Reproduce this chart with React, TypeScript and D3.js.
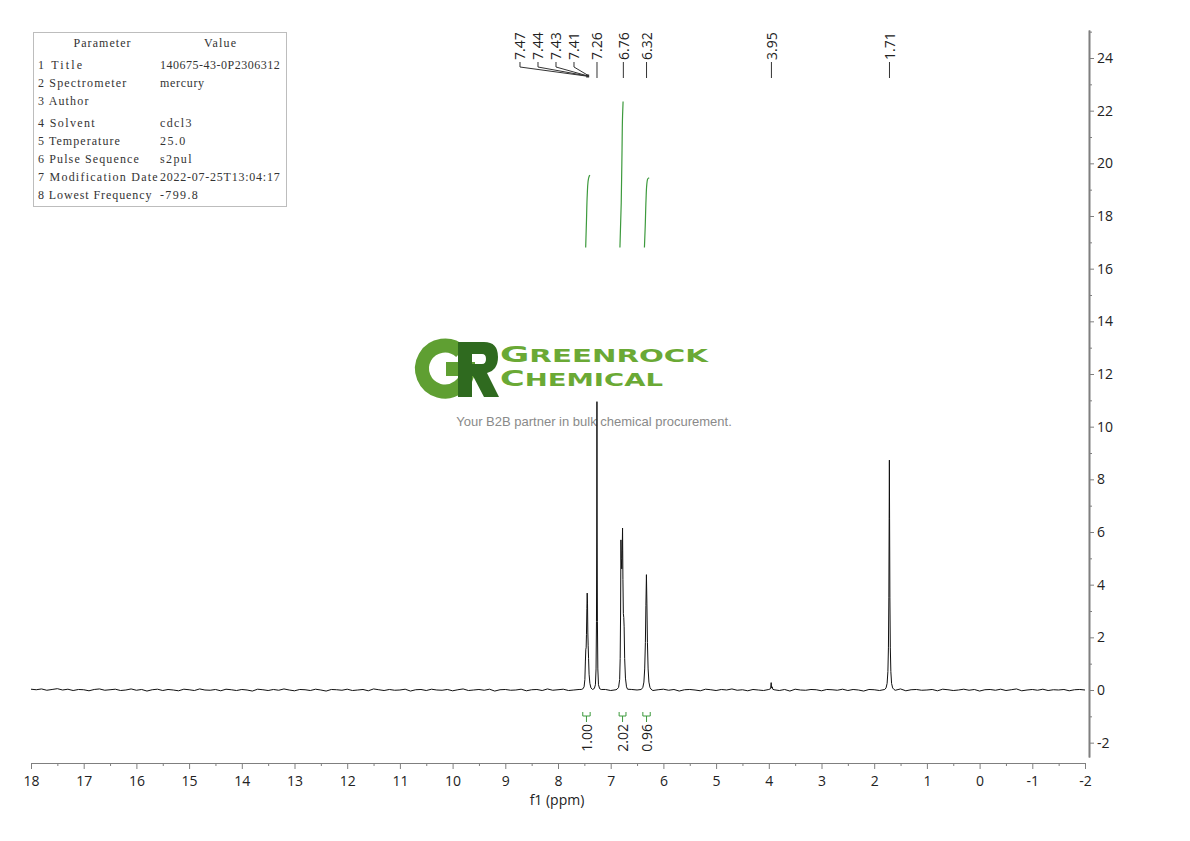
import React, { useEffect, useRef } from "react";
import * as d3 from "d3";

// axis ticks
const xTickValues = [18, 17, 16, 15, 14, 13, 12, 11, 10, 9, 8, 7, 6, 5, 4, 3, 2, 1, 0, -1, -2];
const xMinorTicks = [17.5, 16.5, 15.5, 14.5, 13.5, 12.5, 11.5, 10.5, 9.5, 8.5, 7.5, 6.5, 5.5, 4.5, 3.5, 2.5, 1.5, 0.5, -0.5, -1.5];
const yTickValues = [-2, 0, 2, 4, 6, 8, 10, 12, 14, 16, 18, 20, 22, 24];
const yMinorTicks = [-1, 1, 3, 5, 7, 9, 11, 13, 15, 17, 19, 21, 23, 25];

// parameter table
const paramNames = ["1 Title", "2 Spectrometer", "3 Author", "4 Solvent", "5 Temperature", "6 Pulse Sequence", "7 Modification Date", "8 Lowest Frequency"];
const paramValues = ["140675-43-0P2306312", "mercury", "", "cdcl3", "25.0", "s2pul", "2022-07-25T13:04:17", "-799.8"];

// peak picking labels (ppm)
const peakPicks = [7.47, 7.44, 7.43, 7.41, 7.26, 6.76, 6.32, 3.95, 1.71];

// integrals
const integralRanges = [[7.53, 7.39], [6.84, 6.71], [6.39, 6.25]];
const integralValues = ["1.00", "2.02", "0.96"];
const integralCurve1 = [[7.475, 16.8], [7.46, 17.8], [7.445, 18.8], [7.43, 19.3], [7.41, 19.5], [7.395, 19.55]];
const integralCurve2 = [[6.825, 16.8], [6.8, 18.5], [6.785, 20.5], [6.775, 21.8], [6.765, 22.35]];
const integralCurve3 = [[6.36, 16.8], [6.345, 17.6], [6.33, 18.6], [6.315, 19.2], [6.3, 19.4], [6.27, 19.45]];

// baseline noise, from 18 ppm downwards every 0.1 ppm
const baselineStart = 18;
const baselineStep = 0.1;
const baselineNoise = [
	0.03, 0.01, 0.04, -0.01, 0.02, 0.05, 0.0, 0.03, -0.02, 0.02,
	0.01, -0.03, 0.02, 0.04, -0.01, 0.01, 0.03, -0.02, 0.0, 0.04,
	-0.01, 0.02, -0.04, 0.01, 0.03, -0.02, 0.02, 0.0, -0.03, 0.03,
	0.01, -0.02, 0.04, 0.0, -0.01, 0.02, -0.03, 0.03, 0.01, -0.02,
	0.02, 0.0, -0.04, 0.03, 0.01, -0.02, 0.02, -0.01, 0.04, 0.0,
	-0.03, 0.02, 0.01, -0.02, 0.03, 0.0, -0.04, 0.02, 0.01, -0.01,
	0.03, -0.02, 0.0, 0.02, -0.03, 0.04, 0.01, -0.02, 0.02, -0.01,
	0.0, 0.03, -0.04, 0.01, 0.02, -0.02, 0.03, 0.0, -0.01, 0.02,
	-0.03, 0.01, 0.04, -0.02, 0.0, 0.02, -0.01, 0.03, -0.04, 0.01,
	0.02, -0.01, 0.0, 0.03, -0.03, 0.01, 0.02, -0.02, 0.04, -0.01,
	0.01, 0.03, -0.02, 0.0, 0.02, -0.04, 0.01, 0.03, -0.01, 0.02,
	-0.02, 0.01, 0.04, -0.03, 0.02, 0.0, -0.01, 0.03, -0.02, 0.01,
	0.03, -0.01, 0.02, -0.04, 0.01, 0.02, 0.0, -0.03, 0.03, 0.01,
	-0.02, 0.02, 0.0, 0.04, -0.01, 0.01, -0.03, 0.02, 0.0, -0.02,
	0.03, 0.01, -0.02, 0.02, -0.04, 0.03, 0.0, -0.01, 0.02, 0.01,
	-0.03, 0.02, 0.01, -0.01, 0.03, -0.02, 0.02, 0.0, -0.04, 0.02,
	0.01, -0.02, 0.03, 0.0, -0.01, 0.04, -0.03, 0.01, 0.02, -0.01,
	0.0, 0.02, -0.03, 0.03, 0.01, -0.02, 0.0, 0.03, -0.01, 0.02,
	-0.04, 0.01, 0.02, -0.01, 0.03, -0.02, 0.01, 0.04, -0.03, 0.0,
	0.02, -0.01, 0.03, -0.02, 0.01, 0.0, 0.02, -0.03, 0.01, 0.02,
	0.0,
];

// peak shapes [ppm, intensity]
const peakAromatic = [
	[7.56, 0.02], [7.53, 0.04], [7.505, 0.12], [7.49, 0.4], [7.48, 1.1], [7.472, 1.55], [7.466, 1.6], [7.46, 2.1],
	[7.452, 3.1], [7.446, 3.68], [7.44, 3.3], [7.434, 2.2], [7.428, 1.7], [7.42, 1.2], [7.41, 0.6], [7.395, 0.25],
	[7.375, 0.08], [7.345, 0.02], [7.31, 0.06], [7.29, 0.2], [7.278, 0.8], [7.27, 2.6], [7.265, 6.0], [7.261, 10.95],
	[7.257, 6.0], [7.252, 2.6], [7.244, 0.8], [7.232, 0.2], [7.21, 0.05], [7.18, 0.02],
];
const peak676 = [
	[6.88, 0.03], [6.85, 0.1], [6.83, 0.4], [6.82, 1.2], [6.812, 3.0], [6.806, 5.7], [6.8, 5.0], [6.79, 4.6],
	[6.782, 5.3], [6.775, 6.15], [6.768, 4.2], [6.76, 2.9], [6.752, 2.75], [6.745, 2.4], [6.735, 1.2], [6.72, 0.45],
	[6.7, 0.12], [6.68, 0.03],
];
const peak632 = [
	[6.42, 0.02], [6.39, 0.1], [6.37, 0.3], [6.355, 0.8], [6.342, 1.8], [6.332, 3.2], [6.322, 4.38], [6.313, 3.3],
	[6.303, 1.8], [6.29, 0.8], [6.275, 0.3], [6.255, 0.1], [6.235, 0.03],
];
const peak395 = [[4.0, 0.02], [3.965, 0.05], [3.955, 0.28], [3.948, 0.08], [3.935, 0.12], [3.925, 0.03], [3.9, 0.01]];
const peak171 = [
	[1.8, 0.02], [1.775, 0.08], [1.755, 0.25], [1.74, 0.7], [1.73, 1.6], [1.722, 3.5], [1.716, 6.5], [1.712, 8.73],
	[1.708, 6.5], [1.702, 3.5], [1.694, 1.6], [1.684, 0.7], [1.67, 0.25], [1.65, 0.08], [1.625, 0.02],
];

const W = 1190;
const H = 841;
const FONT = "'Open Sans', 'DejaVu Sans', sans-serif";

export default function App() {
	const svgRef = useRef<SVGSVGElement | null>(null);

	useEffect(() => {
		if (!svgRef.current) return;
		const svg = d3.select(svgRef.current);
		svg.selectAll("*").remove();

		const x = d3.scaleLinear().domain([18, -2]).range([31, 1085]);
		const y = d3.scaleLinear().domain([0, 24]).range([690, 58]);
		const axisTop = 30;
		const axisBottom = 757;
		const yAxisScale = d3.scaleLinear().domain([y.invert(axisBottom), y.invert(axisTop)]).range([axisBottom, axisTop]);

		// parameter table
		const table = svg.append("g").style("font-family", "'Liberation Serif', serif").style("font-size", "12px").attr("fill", "#333");
		table.append("rect").attr("x", 33.5).attr("y", 32.5).attr("width", 253).attr("height", 174).attr("fill", "#fff").attr("stroke", "#bdbdbd");
		table.append("text").attr("x", 102).attr("y", 47).attr("text-anchor", "middle").attr("textLength", 57).text("Parameter");
		table.append("text").attr("x", 220).attr("y", 47).attr("text-anchor", "middle").attr("textLength", 32).text("Value");
		const rowY = [69, 87, 105, 127, 145, 163, 181, 199];
		paramNames.forEach((name, i) => {
			table.append("text").attr("x", 38).attr("y", rowY[i]).attr("textLength", name.length * 6.3).attr("lengthAdjust", "spacing").text(name);
			if (paramValues[i])
				table.append("text").attr("x", 160).attr("y", rowY[i]).attr("textLength", paramValues[i].length * 6.3).attr("lengthAdjust", "spacing").text(paramValues[i]);
		});

		// watermark logo
		const logo = svg.append("g");
		logo.append("path").attr("d", "M461,352 A23,23 0 1 0 468,369").attr("fill", "none").attr("stroke", "#5f9f32").attr("stroke-width", 14);
		logo.append("rect").attr("x", 446).attr("y", 362).attr("width", 29).attr("height", 14).attr("fill", "#5f9f32");
		logo
			.append("path")
			.attr("fill-rule", "evenodd")
			.attr("fill", "#2f6a1f")
			.attr(
				"d",
				"M458,342 L484,342 Q498,342 498,357 Q498,370 487,373 L499,397 L484,397 L473,376 L472,376 L472,397 L458,397 Z M472,354 L482,354 Q486,354 486,359 Q486,364 482,364 L472,364 Z"
			);
		const word1 = logo.append("text").attr("x", 500).attr("y", 362).attr("fill", "#6aa935").style("font-family", "'DejaVu Sans', sans-serif").style("font-weight", "bold").attr("textLength", 208).attr("lengthAdjust", "spacingAndGlyphs");
		word1.append("tspan").style("font-size", "22px").text("G");
		word1.append("tspan").style("font-size", "18px").text("REENROCK");
		const word2 = logo.append("text").attr("x", 500).attr("y", 386).attr("fill", "#6aa935").style("font-family", "'DejaVu Sans', sans-serif").style("font-weight", "bold").attr("textLength", 163).attr("lengthAdjust", "spacingAndGlyphs");
		word2.append("tspan").style("font-size", "22px").text("C");
		word2.append("tspan").style("font-size", "18px").text("HEMICAL");
		logo.append("text").attr("x", 594).attr("y", 426).attr("text-anchor", "middle").attr("fill", "#8a8a8a").style("font-family", "'Liberation Sans', Arial, sans-serif").style("font-size", "13px").text("Your B2B partner in bulk chemical procurement.");

		// bottom axis
		const xAxisG = svg.append("g").attr("transform", `translate(0,763)`);
		xAxisG.call(d3.axisBottom(x).tickValues(xTickValues).tickSize(6).tickSizeOuter(0).tickPadding(7).tickFormat((d) => String(d)));
		xAxisG.call((g) => g.append("g").call(d3.axisBottom(x).tickValues(xMinorTicks).tickSize(3).tickSizeOuter(0).tickFormat(() => "")));
		xAxisG.selectAll("path.domain").attr("stroke", "#7f7f7f");
		xAxisG.selectAll("line").attr("stroke", "#7f7f7f");
		xAxisG.selectAll("text").style("font-family", FONT).style("font-size", "14px").attr("fill", "#222");
		svg.append("text").attr("x", 557).attr("y", 805).attr("text-anchor", "middle").style("font-family", FONT).style("font-size", "14px").attr("fill", "#222").text("f1 (ppm)");

		// right axis
		const yAxisG = svg.append("g").attr("transform", `translate(1089,0)`);
		yAxisG.call(d3.axisRight(yAxisScale).tickValues(yTickValues).tickSize(5).tickSizeOuter(0).tickPadding(3).tickFormat((d) => String(d)));
		yAxisG.call((g) => g.append("g").call(d3.axisRight(yAxisScale).tickValues(yMinorTicks).tickSize(3).tickSizeOuter(0).tickFormat(() => "")));
		yAxisG.selectAll("path.domain").attr("stroke", "#7f7f7f").attr("stroke-width", 1.6);
		yAxisG.selectAll("line").attr("stroke", "#7f7f7f");
		yAxisG.selectAll("text").style("font-family", FONT).style("font-size", "14px").attr("fill", "#222");

		// spectrum: baseline noise merged with peak shapes
		const peaks = [peakAromatic, peak676, peak632, peak395, peak171];
		const windows = peaks.map((p) => [d3.min(p, (d) => d[0]) as number, d3.max(p, (d) => d[0]) as number]);
		const basePts = baselineNoise
			.map((v, i) => [baselineStart - i * baselineStep, v])
			.filter((d) => !windows.some(([lo, hi]) => d[0] >= lo - 1e-6 && d[0] <= hi + 1e-6));
		const spectrum = basePts.concat(...peaks).sort((a, b) => b[0] - a[0]);
		const line = d3
			.line<number[]>()
			.x((d) => x(d[0]))
			.y((d) => y(d[1]));
		svg.append("path").datum(spectrum).attr("d", line).attr("fill", "none").attr("stroke", "#111").attr("stroke-width", 1).attr("stroke-linejoin", "round");

		// integral curves
		const green = "#3d9a3d";
		[integralCurve1, integralCurve2, integralCurve3].forEach((c) => {
			svg
				.append("path")
				.datum(c)
				.attr("d", d3.line<number[]>().x((d) => x(d[0])).y((d) => y(d[1])).curve(d3.curveMonotoneY))
				.attr("fill", "none")
				.attr("stroke", green)
				.attr("stroke-width", 1.2);
		});

		// integral brackets and labels
		const yb = 716;
		integralRanges.forEach(([a, b], i) => {
			const x1 = x(a);
			const x2 = x(b);
			const xc = (x1 + x2) / 2;
			svg
				.append("path")
				.attr("d", `M${x1},${yb - 4}V${yb}M${x1},${yb}H${x2}M${x2},${yb - 4}V${yb}M${xc},${yb}V${yb + 6}`)
				.attr("fill", "none")
				.attr("stroke", green)
				.attr("stroke-width", 1);
			svg
				.append("text")
				.attr("transform", `translate(${xc},${yb + 8}) rotate(-90)`)
				.attr("text-anchor", "end")
				.attr("dominant-baseline", "central")
				.style("font-family", FONT)
				.style("font-size", "14px")
				.attr("fill", "#222")
				.text(integralValues[i]);
		});

		// peak labels with leaders
		const lx: number[] = [];
		const pushed: boolean[] = [];
		let next = Infinity;
		let nextPushed = false;
		for (let i = peakPicks.length - 1; i >= 0; i--) {
			const px = x(peakPicks[i]);
			const gap = nextPushed ? 18 : 23;
			const pos = Math.min(px, next - gap);
			lx[i] = pos;
			pushed[i] = pos < px - 0.5;
			next = pos;
			nextPushed = pushed[i];
		}
		const labels = svg.append("g");
		peakPicks.forEach((p, i) => {
			const px = x(p);
			labels
				.append("text")
				.attr("transform", `translate(${lx[i]},60) rotate(-90)`)
				.attr("text-anchor", "start")
				.attr("dominant-baseline", "central")
				.style("font-family", FONT)
				.style("font-size", "14px")
				.attr("fill", "#222")
				.text(p.toFixed(2));
			labels
				.append("path")
				.attr("d", pushed[i] ? `M${lx[i]},62V67L${px},76` : `M${px},62V78`)
				.attr("fill", "none")
				.attr("stroke", "#333")
				.attr("stroke-width", 1);
		});
		const clusterX = peakPicks.filter((_, i) => pushed[i]).map((p) => x(p));
		if (clusterX.length) {
			labels.append("rect").attr("x", d3.mean(clusterX)! - 1.5).attr("y", 74.5).attr("width", 3).attr("height", 3).attr("fill", "#333");
		}
	}, []);

	return <svg ref={svgRef} width={W} height={H} style={{ position: "absolute", left: 0, top: 0, background: "#fff" }}></svg>;
}
